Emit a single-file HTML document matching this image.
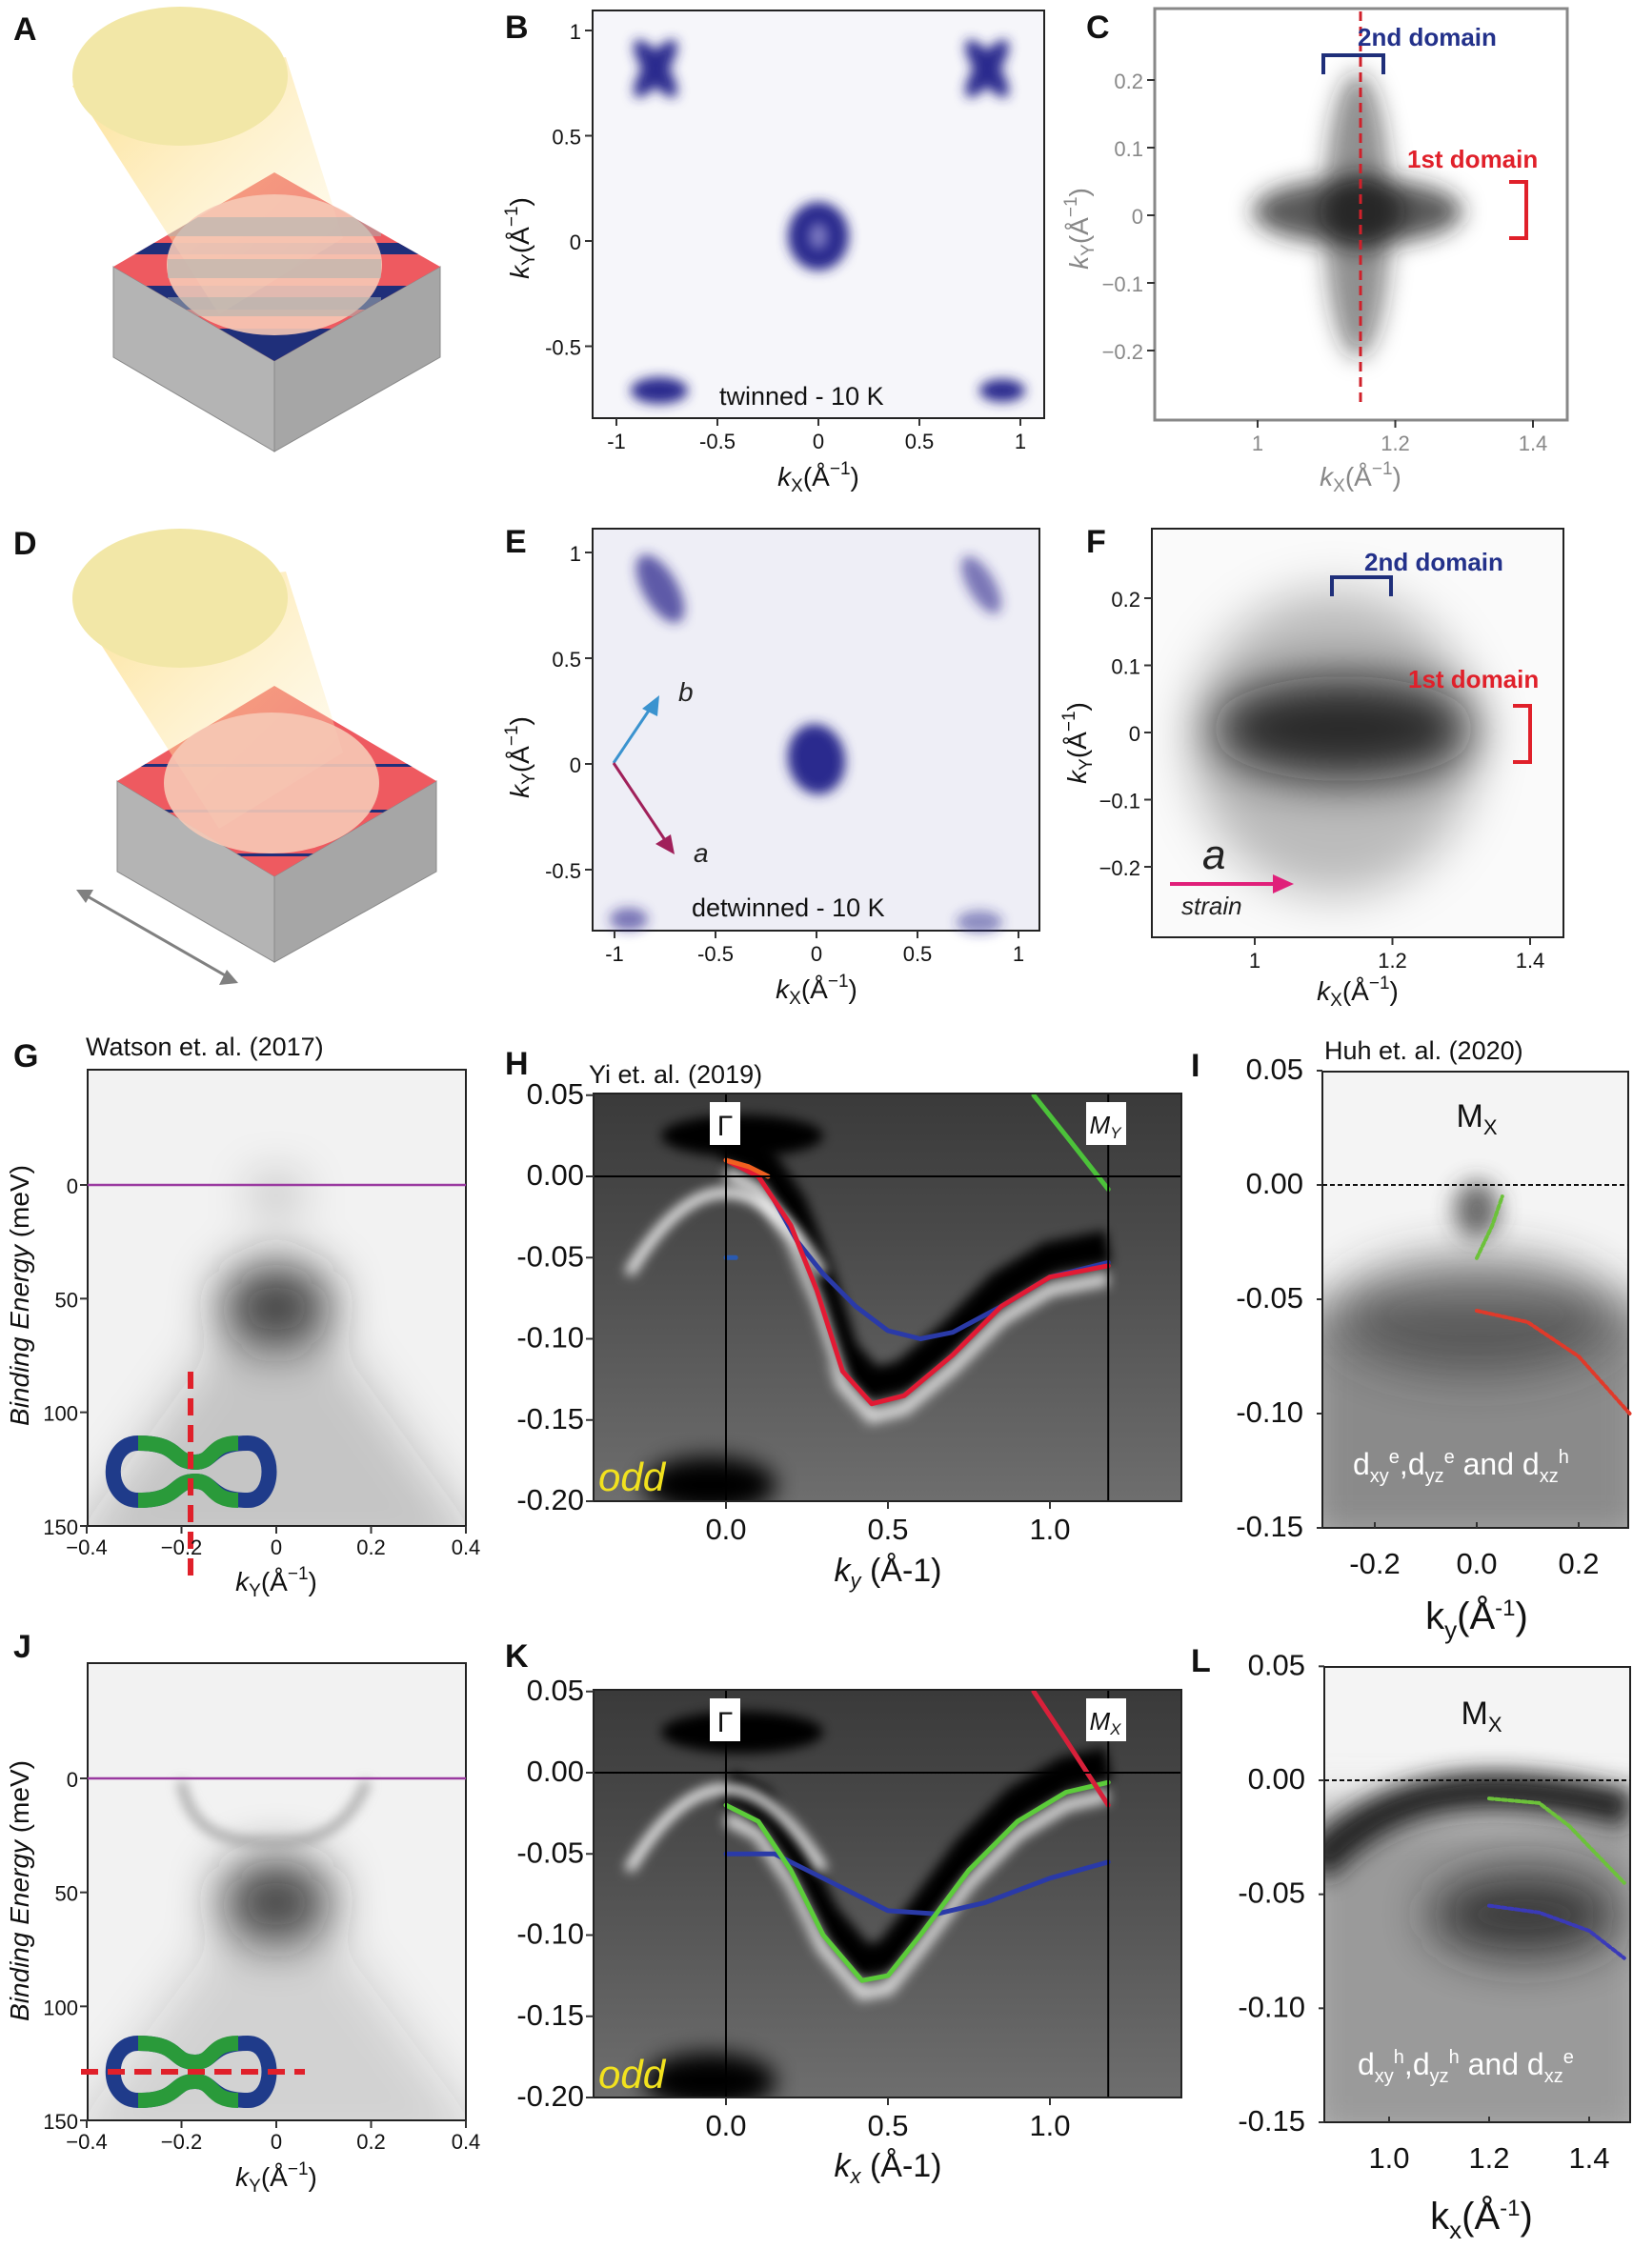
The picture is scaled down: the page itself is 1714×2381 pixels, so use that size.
<!DOCTYPE html>
<html><head><meta charset="utf-8">
<style>
html,body{margin:0;padding:0;background:#fff;}
svg{display:block;font-family:"Liberation Sans",Arial,sans-serif;}
.lbl{font-size:34px;font-weight:bold;fill:#111;}
.tk{font-size:22px;fill:#111;}
.tkg{font-size:22px;fill:#888;}
.tkb{font-size:31px;fill:#111;}
</style></head>
<body>
<svg id="fig" width="1714" height="2381" viewBox="0 0 1714 2381" xmlns="http://www.w3.org/2000/svg">
<defs>
<filter id="b6" x="-100%" y="-100%" width="300%" height="300%"><feGaussianBlur stdDeviation="6"/></filter>
<filter id="b12" x="-100%" y="-100%" width="300%" height="300%"><feGaussianBlur stdDeviation="12"/></filter>
<filter id="b25" x="-100%" y="-100%" width="300%" height="300%"><feGaussianBlur stdDeviation="25"/></filter>
<filter id="b40" x="-100%" y="-100%" width="300%" height="300%"><feGaussianBlur stdDeviation="40"/></filter>
<linearGradient id="beam" x1="0" y1="0" x2="1" y2="1"><stop offset="0" stop-color="#fbd56a"/><stop offset="1" stop-color="#fff3d0" stop-opacity="0.3"/></linearGradient>
<linearGradient id="hbg" x1="0" y1="0" x2="0" y2="1"><stop offset="0" stop-color="#3a3a3a"/><stop offset="0.35" stop-color="#4a4a4a"/><stop offset="1" stop-color="#6e6e6e"/></linearGradient>
<clipPath id="cA"><polygon points="288,181 462,280 288,379 119,280"/></clipPath>
<clipPath id="cD"><polygon points="288,720 458,820 288,920 123,820"/></clipPath>
<clipPath id="cH"><rect x="623" y="1148" width="617" height="428"/></clipPath>
<clipPath id="cK"><rect x="623" y="1774" width="617" height="428"/></clipPath>
<clipPath id="cI"><rect x="1388" y="1125" width="321" height="479"/></clipPath>
<clipPath id="cL"><rect x="1390" y="1750" width="321" height="478"/></clipPath>
<clipPath id="cG"><rect x="92" y="1123" width="397" height="479"/></clipPath>
<clipPath id="cJ"><rect x="92" y="1746" width="397" height="480"/></clipPath>
<clipPath id="cF"><rect x="1209" y="555" width="432" height="429"/></clipPath>
<clipPath id="cC"><rect x="1212" y="9" width="433" height="432"/></clipPath>
</defs>

<!-- Panel A -->
<g>
<text class="lbl" x="14" y="42">A</text>
<polygon points="119,280 288,379 288,474 119,375" fill="#b4b4b4" stroke="#888"/>
<polygon points="288,379 462,280 462,375 288,474" fill="#a6a6a6" stroke="#888"/>
<polygon points="288,181 462,280 288,379 119,280" fill="#ee5a60"/>
<g clip-path="url(#cA)">
<rect x="100" y="255" width="380" height="12" fill="#1f2f7a"/>
<rect x="100" y="300" width="380" height="25" fill="#1f2f7a"/>
<rect x="100" y="345" width="380" height="40" fill="#1f2f7a"/>
</g>
<polygon points="76,90 300,60 360,250 230,330" fill="url(#beam)" opacity="0.75"/>
<ellipse cx="288" cy="278" rx="113" ry="74" fill="#f6c9b6" opacity="0.9"/>
<g opacity="0.55" fill="#aab2b0" clip-path="url(#cA)"><rect x="176" y="228" width="224" height="20"/><rect x="176" y="272" width="224" height="20"/><rect x="176" y="312" width="224" height="20"/></g>
<ellipse cx="189" cy="80" rx="113" ry="73" fill="#f2e7a7"/>
</g>

<!-- Panel D -->
<g>
<text class="lbl" x="14" y="582">D</text>
<polygon points="123,820 288,920 288,1010 123,915" fill="#b4b4b4" stroke="#888"/>
<polygon points="288,920 458,820 458,915 288,1010" fill="#a6a6a6" stroke="#888"/>
<polygon points="288,720 458,820 288,920 123,820" fill="#ee5a60"/>
<g clip-path="url(#cD)"><rect x="100" y="802" width="380" height="3" fill="#1f2f7a"/><rect x="100" y="850" width="380" height="3" fill="#1f2f7a"/><rect x="100" y="896" width="380" height="3" fill="#1f2f7a"/></g>
<polygon points="76,630 300,600 360,790 230,870" fill="url(#beam)" opacity="0.75"/>
<ellipse cx="285" cy="822" rx="113" ry="74" fill="#f6c9b6" opacity="0.9"/>
<ellipse cx="189" cy="628" rx="113" ry="73" fill="#f2e7a7"/>
<line x1="90" y1="940" x2="238" y2="1025" stroke="#808080" stroke-width="3"/>
<polygon points="80,934 98,934 90,948" fill="#808080"/>
<polygon points="250,1032 230,1034 238,1018" fill="#808080"/>
</g>

<!-- Panel B -->
<g>
<text class="lbl" x="530" y="40">B</text>
<rect x="622" y="11" width="474" height="428" fill="#f6f6fa" stroke="#222" stroke-width="2"/>
<g fill="#2b2a8e" filter="url(#b6)">
<ellipse cx="859" cy="248" rx="32" ry="36"/>
<ellipse cx="688" cy="72" rx="12" ry="36" transform="rotate(35 688 72)"/><ellipse cx="688" cy="72" rx="12" ry="36" transform="rotate(-35 688 72)"/>
<ellipse cx="1036" cy="72" rx="12" ry="36" transform="rotate(35 1036 72)"/><ellipse cx="1036" cy="72" rx="12" ry="36" transform="rotate(-35 1036 72)"/>
<ellipse cx="692" cy="410" rx="30" ry="14"/><ellipse cx="1052" cy="410" rx="24" ry="12"/>
</g>
<ellipse cx="859" cy="248" rx="10" ry="14" fill="#7a78c0" filter="url(#b6)"/>
<text x="755" y="425" font-size="27" fill="#111">twinned - 10 K</text>
<g id="axB"></g>
<text x="859" y="510" font-size="28" text-anchor="middle" fill="#111"><tspan font-style="italic">k</tspan><tspan font-size="19" dy="6">X</tspan><tspan dy="-6">(Å</tspan><tspan font-size="19" dy="-12">−1</tspan><tspan dy="12">)</tspan></text>
<text transform="translate(555,250) rotate(-90)" font-size="28" text-anchor="middle" fill="#111"><tspan font-style="italic">k</tspan><tspan font-size="19" dy="6">Y</tspan><tspan dy="-6">(Å</tspan><tspan font-size="19" dy="-12">−1</tspan><tspan dy="12">)</tspan></text>
</g>

<!-- Panel E -->
<g>
<text class="lbl" x="530" y="580">E</text>
<rect x="622" y="555" width="469" height="422" fill="#eeeef6" stroke="#222" stroke-width="2"/>
<g fill="#2b2a8e" filter="url(#b6)">
<ellipse cx="857" cy="797" rx="30" ry="37" transform="rotate(-10 857 797)"/>
<ellipse cx="693" cy="618" rx="18" ry="40" transform="rotate(-30 693 618)" opacity="0.75"/>
<ellipse cx="1030" cy="614" rx="14" ry="34" transform="rotate(-30 1030 614)" opacity="0.6"/>
<ellipse cx="660" cy="965" rx="20" ry="12" opacity="0.6"/><ellipse cx="1028" cy="968" rx="24" ry="12" opacity="0.5"/>
</g>
<line x1="644" y1="801" x2="685" y2="740" stroke="#3b93cf" stroke-width="3"/><polygon points="692,730 690,752 674,744" fill="#3b93cf"/>
<line x1="644" y1="801" x2="700" y2="885" stroke="#a0205a" stroke-width="3"/><polygon points="708,897 688,886 704,876" fill="#a0205a"/>
<text x="712" y="736" font-size="28" font-style="italic" fill="#222">b</text>
<text x="728" y="905" font-size="28" font-style="italic" fill="#222">a</text>
<text x="726" y="962" font-size="27" fill="#111">detwinned - 10 K</text>
<g id="axE"></g>
<text x="857" y="1048" font-size="28" text-anchor="middle" fill="#111"><tspan font-style="italic">k</tspan><tspan font-size="19" dy="6">X</tspan><tspan dy="-6">(Å</tspan><tspan font-size="19" dy="-12">−1</tspan><tspan dy="12">)</tspan></text>
<text transform="translate(555,795) rotate(-90)" font-size="28" text-anchor="middle" fill="#111"><tspan font-style="italic">k</tspan><tspan font-size="19" dy="6">Y</tspan><tspan dy="-6">(Å</tspan><tspan font-size="19" dy="-12">−1</tspan><tspan dy="12">)</tspan></text>
</g>

<!-- Panel C -->
<g>
<text class="lbl" x="1140" y="40">C</text>
<rect x="1212" y="9" width="433" height="432" fill="#fff" stroke="#888" stroke-width="3"/>
<g fill="#222" filter="url(#b12)" clip-path="url(#cC)">
<ellipse cx="1425" cy="222" rx="110" ry="35" opacity="0.75"/>
<ellipse cx="1425" cy="226" rx="35" ry="150" opacity="0.5"/>
<ellipse cx="1430" cy="222" rx="45" ry="40" opacity="0.8"/>
</g>
<line x1="1428" y1="12" x2="1428" y2="425" stroke="#d0202a" stroke-width="3" stroke-dasharray="10,6"/>
<path d="M1389,78 V58 H1452 V78" fill="none" stroke="#1f2f7a" stroke-width="4"/>
<path d="M1584,191 H1602 V250 H1584" fill="none" stroke="#e0202a" stroke-width="4"/>
<text x="1425" y="48" font-size="26" font-weight="bold" fill="#23318a">2nd domain</text>
<text x="1477" y="176" font-size="26" font-weight="bold" fill="#e0202a">1st domain</text>
<g id="axC"></g>
<text x="1428" y="510" font-size="28" text-anchor="middle" fill="#888"><tspan font-style="italic">k</tspan><tspan font-size="19" dy="6">X</tspan><tspan dy="-6">(Å</tspan><tspan font-size="19" dy="-12">−1</tspan><tspan dy="12">)</tspan></text>
<text transform="translate(1142,240) rotate(-90)" font-size="28" text-anchor="middle" fill="#888"><tspan font-style="italic">k</tspan><tspan font-size="19" dy="6">Y</tspan><tspan dy="-6">(Å</tspan><tspan font-size="19" dy="-12">−1</tspan><tspan dy="12">)</tspan></text>
</g>

<!-- Panel F -->
<g>
<text class="lbl" x="1140" y="580">F</text>
<rect x="1209" y="555" width="432" height="429" fill="#fafafa" stroke="#222" stroke-width="2"/>
<g fill="#111" filter="url(#b25)" clip-path="url(#cF)">
<ellipse cx="1400" cy="780" rx="150" ry="160" opacity="0.25"/>
<ellipse cx="1410" cy="765" rx="140" ry="55" opacity="0.85"/>
</g>
<path d="M1398,626 V606 H1460 V626" fill="none" stroke="#1f2f7a" stroke-width="4"/>
<path d="M1588,741 H1606 V800 H1588" fill="none" stroke="#e0202a" stroke-width="4"/>
<text x="1432" y="599" font-size="26" font-weight="bold" fill="#23318a">2nd domain</text>
<text x="1478" y="722" font-size="26" font-weight="bold" fill="#e0202a">1st domain</text>
<line x1="1228" y1="928" x2="1340" y2="928" stroke="#e0207a" stroke-width="4"/><polygon points="1358,928 1336,918 1336,938" fill="#e0207a"/>
<text x="1262" y="912" font-size="44" font-style="italic" fill="#222">a</text>
<text x="1240" y="960" font-size="26" font-style="italic" fill="#222">strain</text>
<g id="axF"></g>
<text x="1425" y="1050" font-size="28" text-anchor="middle" fill="#111"><tspan font-style="italic">k</tspan><tspan font-size="19" dy="6">X</tspan><tspan dy="-6">(Å</tspan><tspan font-size="19" dy="-12">−1</tspan><tspan dy="12">)</tspan></text>
<text transform="translate(1140,780) rotate(-90)" font-size="28" text-anchor="middle" fill="#111"><tspan font-style="italic">k</tspan><tspan font-size="19" dy="6">Y</tspan><tspan dy="-6">(Å</tspan><tspan font-size="19" dy="-12">−1</tspan><tspan dy="12">)</tspan></text>
</g>

<!-- Panel G -->
<g>
<text class="lbl" x="14" y="1120">G</text>
<text x="90" y="1108" font-size="27" fill="#111">Watson et. al. (2017)</text>
<rect x="92" y="1123" width="397" height="479" fill="#f2f2f2" stroke="#222" stroke-width="2"/>
<g fill="#222" filter="url(#b25)" clip-path="url(#cG)">
<path d="M60,1640 L290,1320 L520,1640Z" opacity="0.22"/>
<ellipse cx="290" cy="1370" rx="60" ry="45" opacity="0.8"/>
<ellipse cx="290" cy="1255" rx="25" ry="18" opacity="0.3"/>
</g>
<rect x="92" y="1123" width="397" height="479" fill="none" stroke="#222" stroke-width="2"/>
<line x1="92" y1="1244" x2="489" y2="1244" stroke="#9a3aa0" stroke-width="2.5"/>
<g transform="translate(0,183)">
<path d="M145,1332 C110,1332 110,1392 145,1392 C190,1392 180,1372 205,1372 C225,1372 220,1392 260,1392 C290,1392 290,1332 260,1332 C220,1332 225,1352 205,1352 C180,1352 190,1332 145,1332Z" fill="none" stroke="#1f3b8a" stroke-width="16"/>
<path d="M145,1332 C190,1332 180,1352 205,1352 C225,1352 220,1332 250,1332 M145,1392 C190,1392 180,1372 205,1372 C225,1372 220,1392 250,1392" fill="none" stroke="#2a9a3a" stroke-width="16"/>
</g>
<line x1="200" y1="1440" x2="200" y2="1655" stroke="#e0202a" stroke-width="6" stroke-dasharray="18,10"/>
<g id="axG"></g>
<text x="290" y="1670" font-size="28" text-anchor="middle" fill="#111"><tspan font-style="italic">k</tspan><tspan font-size="19" dy="6">Y</tspan><tspan dy="-6">(Å</tspan><tspan font-size="19" dy="-12">−1</tspan><tspan dy="12">)</tspan></text>
<text transform="translate(30,1360) rotate(-90)" font-size="28" font-style="italic" text-anchor="middle" fill="#111">Binding Energy  <tspan font-style="normal">(meV)</tspan></text>
</g>

<!-- Panel J -->
<g>
<text class="lbl" x="14" y="1740">J</text>
<rect x="92" y="1746" width="397" height="480" fill="#f2f2f2" stroke="#222" stroke-width="2"/>
<g fill="#222" filter="url(#b25)" clip-path="url(#cJ)">
<path d="M60,2260 L290,1950 L520,2260Z" opacity="0.16"/>
<ellipse cx="290" cy="1995" rx="60" ry="45" opacity="0.8"/>
</g>
<path d="M190,1870 C200,1920 230,1935 290,1935 C340,1935 370,1910 385,1870" fill="none" stroke="#999" stroke-width="8" filter="url(#b6)"/>
<rect x="92" y="1746" width="397" height="480" fill="none" stroke="#222" stroke-width="2"/>
<line x1="92" y1="1867" x2="489" y2="1867" stroke="#9a3aa0" stroke-width="2.5"/>
<g transform="translate(0,190)">
<path d="M145,1955 C110,1955 110,2015 145,2015 C190,2015 180,1995 205,1995 C225,1995 220,2015 260,2015 C290,2015 290,1955 260,1955 C220,1955 225,1975 205,1975 C180,1975 190,1955 145,1955Z" fill="none" stroke="#1f3b8a" stroke-width="16"/>
<path d="M145,1955 C190,1955 180,1975 205,1975 C225,1975 220,1955 250,1955 M145,2015 C190,2015 180,1995 205,1995 C225,1995 220,2015 250,2015" fill="none" stroke="#2a9a3a" stroke-width="16"/>
<line x1="85" y1="1985" x2="320" y2="1985" stroke="#e0202a" stroke-width="6" stroke-dasharray="18,10"/>
</g>
<g id="axJ"></g>
<text x="290" y="2295" font-size="28" text-anchor="middle" fill="#111"><tspan font-style="italic">k</tspan><tspan font-size="19" dy="6">Y</tspan><tspan dy="-6">(Å</tspan><tspan font-size="19" dy="-12">−1</tspan><tspan dy="12">)</tspan></text>
<text transform="translate(30,1985) rotate(-90)" font-size="28" font-style="italic" text-anchor="middle" fill="#111">Binding Energy  <tspan font-style="normal">(meV)</tspan></text>
</g>

<!-- Panel H -->
<g>
<text class="lbl" x="530" y="1128">H</text>
<text x="618" y="1137" font-size="27" fill="#111">Yi et. al. (2019)</text>
<rect x="623" y="1148" width="617" height="428" fill="url(#hbg)"/>
<g id="bgH" clip-path="url(#cH)"></g>
<g id="curvesH" clip-path="url(#cH)"></g>
<rect x="623" y="1148" width="617" height="428" fill="none" stroke="#222" stroke-width="2"/>
<rect x="745" y="1157" width="32" height="45" fill="#fff"/><text x="761" y="1192" font-size="30" text-anchor="middle" fill="#111">Γ</text>
<rect x="1140" y="1157" width="42" height="45" fill="#fff"/><text x="1160" y="1190" font-size="26" font-style="italic" text-anchor="middle" fill="#111">M<tspan font-size="17" dy="5">Y</tspan></text>
<text x="628" y="1565" font-size="42" font-style="italic" fill="#f2e21e">odd</text>
<g id="axH"></g>
<text x="932" y="1660" font-size="34" text-anchor="middle" fill="#111"><tspan font-style="italic">k</tspan><tspan font-size="22" dy="7" font-style="italic">y</tspan><tspan dy="-7"> (Å-1)</tspan></text>
</g>

<!-- Panel K -->
<g>
<text class="lbl" x="530" y="1750">K</text>
<rect x="623" y="1774" width="617" height="428" fill="url(#hbg)"/>
<g id="bgK" clip-path="url(#cK)"></g>
<g id="curvesK" clip-path="url(#cK)"></g>
<rect x="623" y="1774" width="617" height="428" fill="none" stroke="#222" stroke-width="2"/>
<rect x="745" y="1783" width="32" height="45" fill="#fff"/><text x="761" y="1818" font-size="30" text-anchor="middle" fill="#111">Γ</text>
<rect x="1140" y="1783" width="42" height="45" fill="#fff"/><text x="1160" y="1816" font-size="26" font-style="italic" text-anchor="middle" fill="#111">M<tspan font-size="17" dy="5">X</tspan></text>
<text x="628" y="2192" font-size="42" font-style="italic" fill="#f2e21e">odd</text>
<g id="axK"></g>
<text x="932" y="2285" font-size="34" text-anchor="middle" fill="#111"><tspan font-style="italic">k</tspan><tspan font-size="22" dy="7" font-style="italic">x</tspan><tspan dy="-7"> (Å-1)</tspan></text>
</g>

<!-- Panel I -->
<g>
<text class="lbl" x="1250" y="1130">I</text>
<text x="1390" y="1112" font-size="27" fill="#111">Huh et. al. (2020)</text>
<rect x="1388" y="1125" width="321" height="479" fill="#f4f4f4"/>
<g clip-path="url(#cI)">
<rect x="1360" y="1370" width="380" height="260" fill="#8a8a8a" filter="url(#b25)"/>
<ellipse cx="1550" cy="1380" rx="150" ry="60" fill="#333" opacity="0.6" filter="url(#b25)"/>
<ellipse cx="1550" cy="1270" rx="24" ry="30" fill="#333" opacity="0.7" filter="url(#b12)"/>
</g>
<rect x="1388" y="1125" width="321" height="479" fill="none" stroke="#222" stroke-width="2"/>
<line x1="1388" y1="1244" x2="1709" y2="1244" stroke="#111" stroke-width="2" stroke-dasharray="5,3"/>
<g id="curvesI"></g>
<text x="1550" y="1183" font-size="34" text-anchor="middle" fill="#111">M<tspan font-size="22" dy="8">X</tspan></text>
<text x="1420" y="1548" font-size="32" fill="#fff">d<tspan font-size="20" dy="8">xy</tspan><tspan font-size="20" dy="-20">e</tspan><tspan dy="12">,d</tspan><tspan font-size="20" dy="8">yz</tspan><tspan font-size="20" dy="-20">e</tspan><tspan dy="12"> and d</tspan><tspan font-size="20" dy="8">xz</tspan><tspan font-size="20" dy="-20">h</tspan></text>
<g id="axI"></g>
<text x="1550" y="1710" font-size="40" text-anchor="middle" fill="#111">k<tspan font-size="26" dy="10">y</tspan><tspan dy="-10">(Å</tspan><tspan font-size="24" dy="-14">-1</tspan><tspan dy="14">)</tspan></text>
</g>

<!-- Panel L -->
<g>
<text class="lbl" x="1250" y="1755">L</text>
<rect x="1390" y="1750" width="321" height="478" fill="#f4f4f4"/>
<g clip-path="url(#cL)">
<rect x="1360" y="1900" width="380" height="360" fill="#9a9a9a" filter="url(#b25)"/>
<path d="M1380,1960 C1450,1880 1550,1860 1711,1900" fill="none" stroke="#222" stroke-width="40" filter="url(#b12)"/>
<ellipse cx="1600" cy="2010" rx="100" ry="45" fill="#222" opacity="0.8" filter="url(#b25)"/>
</g>
<rect x="1390" y="1750" width="321" height="478" fill="none" stroke="#222" stroke-width="2"/>
<line x1="1390" y1="1869" x2="1711" y2="1869" stroke="#111" stroke-width="2" stroke-dasharray="5,3"/>
<g id="curvesL"></g>
<text x="1555" y="1810" font-size="34" text-anchor="middle" fill="#111">M<tspan font-size="22" dy="8">X</tspan></text>
<text x="1425" y="2178" font-size="32" fill="#fff">d<tspan font-size="20" dy="8">xy</tspan><tspan font-size="20" dy="-20">h</tspan><tspan dy="12">,d</tspan><tspan font-size="20" dy="8">yz</tspan><tspan font-size="20" dy="-20">h</tspan><tspan dy="12"> and d</tspan><tspan font-size="20" dy="8">xz</tspan><tspan font-size="20" dy="-20">e</tspan></text>
<g id="axL"></g>
<text x="1555" y="2340" font-size="40" text-anchor="middle" fill="#111">k<tspan font-size="26" dy="10">x</tspan><tspan dy="-10">(Å</tspan><tspan font-size="24" dy="-14">-1</tspan><tspan dy="14">)</tspan></text>
</g>
</svg>

<script>
// ---- data arrays ----
const bTicksX = [-1, -0.5, 0, 0.5, 1];
const bTicksY = [1, 0.5, 0, -0.5];
const cTicksX = [1, 1.2, 1.4];
const cTicksY = [0.2, 0.1, 0, -0.1, -0.2];
const gTicksX = [-0.4, -0.2, 0, 0.2, 0.4];
const gTicksY = [0, 50, 100, 150];
const hTicksX = [0.0, 0.5, 1.0];
const hTicksY = [0.05, 0.00, -0.05, -0.10, -0.15, -0.20];
const iTicksX = [-0.2, 0.0, 0.2];
const lTicksX = [1.0, 1.2, 1.4];
const iTicksY = [0.05, 0.00, -0.05, -0.10, -0.15];
const lTicksY = [0.05, 0.00, -0.05, -0.10, -0.15];
// band dispersions (k, E) for H
const hRedK = [0, 0.1, 0.2, 0.28, 0.36, 0.45, 0.55, 0.7, 0.85, 1.0, 1.18];
const hRedE = [0.01, 0.0, -0.03, -0.07, -0.12, -0.14, -0.135, -0.11, -0.08, -0.062, -0.055];
const hBlueK = [0.15, 0.22, 0.3, 0.4, 0.5, 0.6, 0.7, 0.85, 1.0, 1.18];
const hBlueE = [-0.015, -0.04, -0.06, -0.08, -0.095, -0.1, -0.096, -0.08, -0.062, -0.053];
const hOrangeK = [0, 0.07, 0.13];
const hOrangeE = [0.01, 0.006, 0.0];
const hGreenK = [0.95, 1.05, 1.18];
const hGreenE = [0.05, 0.025, -0.008];
// K
const kGreenK = [0, 0.1, 0.2, 0.3, 0.42, 0.5, 0.6, 0.75, 0.9, 1.05, 1.18];
const kGreenE = [-0.02, -0.03, -0.06, -0.1, -0.128, -0.125, -0.1, -0.06, -0.03, -0.012, -0.006];
const kBlueK = [0, 0.15, 0.3, 0.5, 0.65, 0.8, 1.0, 1.18];
const kBlueE = [-0.05, -0.05, -0.065, -0.085, -0.087, -0.08, -0.065, -0.055];
const kRedK = [0.95, 1.05, 1.18];
const kRedE = [0.05, 0.02, -0.02];
// I, L dotted guide bands
const iGreenK = [0.0, 0.03, 0.05];
const iGreenE = [-0.032, -0.018, -0.005];
const iRedK = [0.0, 0.1, 0.2, 0.3];
const iRedE = [-0.055, -0.06, -0.075, -0.1];
const lGreenK = [1.2, 1.3, 1.36, 1.47];
const lGreenE = [-0.008, -0.01, -0.02, -0.045];
const lBlueK = [1.2, 1.3, 1.4, 1.47];
const lBlueE = [-0.055, -0.058, -0.066, -0.078];

const NS = "http://www.w3.org/2000/svg";
function lin(d0, d1, p0, p1){ return v => p0 + (v - d0) * (p1 - p0) / (d1 - d0); }
function el(tag, attrs, parent){ const e = document.createElementNS(NS, tag); for (const k in attrs) e.setAttribute(k, attrs[k]); parent.appendChild(e); return e; }

function axes(gid, fx, fy, tx, ty, box, cls, fmt, tickLen, inner){
  const g = document.getElementById(gid);
  tx.forEach(v => {
    const x = fx(v);
    el('line', {x1:x, y1:box.b, x2:x, y2:box.b + (inner ? -tickLen : tickLen), stroke:'#333', 'stroke-width':2}, g);
    const t = el('text', {x:x, y:box.b + box.xo, 'text-anchor':'middle', class:cls}, g);
    t.textContent = fmt.x(v);
    
    
  });
  ty.forEach(v => {
    const y = fy(v);
    el('line', {x1:box.l, y1:y, x2:box.l - tickLen, y2:y, stroke:'#333', 'stroke-width':2}, g);
    const t = el('text', {x:box.l - box.yo, y:y + 9, 'text-anchor':'end', class:cls}, g);
    t.textContent = fmt.y(v);
    
    
  });
}
const s = v => String(v).replace('-', '−');
const f2 = v => (v < 0 ? '-' : '') + Math.abs(v).toFixed(2);
const f1 = v => (v < 0 ? '-' : '') + Math.abs(v).toFixed(1);

let bx = lin(0, 1, 859, 1071), by = lin(0, 1, 253, 32);
axes('axB', bx, by, bTicksX, bTicksY, {b:439, l:622, xo:32, yo:12}, 'tk', {x:String, y:String}, 8);
let ex = lin(0, 1, 857, 1069), ey = lin(0, 1, 802, 580);
axes('axE', ex, ey, bTicksX, bTicksY, {b:977, l:622, xo:32, yo:12}, 'tk', {x:String, y:String}, 8);
let cx = lin(1, 1.4, 1320, 1609), cy = lin(0, 0.2, 226, 84);
axes('axC', cx, cy, cTicksX, cTicksY, {b:441, l:1212, xo:32, yo:12}, 'tkg', {x:String, y:s}, 8);
let fx = lin(1, 1.4, 1317, 1606), fy = lin(0, 0.2, 769, 628);
axes('axF', fx, fy, cTicksX, [0.2,0.1,0,-0.1,-0.2], {b:984, l:1209, xo:32, yo:12}, 'tk', {x:String, y:s}, 8);
let gx = lin(0, 0.4, 290, 489), gy = lin(0, 150, 1244, 1602);
axes('axG', gx, gy, gTicksX, gTicksY, {b:1602, l:92, xo:30, yo:10}, 'tk', {x:s, y:String}, 8);
let jy = lin(0, 150, 1867, 2226);
axes('axJ', gx, jy, gTicksX, gTicksY, {b:2226, l:92, xo:30, yo:10}, 'tk', {x:s, y:String}, 8);
let hx = lin(0, 1, 762, 1102), hy = lin(0, -0.2, 1235, 1576);
axes('axH', hx, hy, hTicksX, hTicksY, {b:1576, l:623, xo:40, yo:10}, 'tkb', {x:f1, y:f2}, 8);
let ky = lin(0, -0.2, 1861, 2202);
axes('axK', hx, ky, hTicksX, hTicksY, {b:2202, l:623, xo:40, yo:10}, 'tkb', {x:f1, y:f2}, 8);
let ix = lin(0, 0.2, 1550, 1657), iy = lin(0, -0.15, 1244, 1604);
axes('axI', ix, iy, iTicksX, iTicksY, {b:1604, l:1388, xo:48, yo:20}, 'tkb', {x:f1, y:f2}, 6, true);
let lx = lin(1.0, 1.4, 1458, 1668), ly = lin(0, -0.15, 1869, 2228);
axes('axL', lx, ly, lTicksX, lTicksY, {b:2228, l:1390, xo:48, yo:20}, 'tkb', {x:f1, y:f2}, 6, true);

function path(K, E, fx, fy){ return K.map((k,i) => (i ? 'L' : 'M') + fx(k).toFixed(1) + ',' + fy(E[i]).toFixed(1)).join(' '); }
function curve(gid, K, E, fx, fy, color, w, name, dash){
  const g = document.getElementById(gid);
  const p = el('path', {d:path(K,E,fx,fy), fill:'none', stroke:color, 'stroke-width':w, 'stroke-linecap':'round', 'stroke-linejoin':'round'}, g);
  if (dash) p.setAttribute('stroke-dasharray', dash);
  
  
}
function bg(gid, K, E, fy){
  const g = document.getElementById(gid);
  el('path', {d:path(K, E.map(e=>e+0.012), hx, fy), fill:'none', stroke:'#000', 'stroke-width':34, filter:'url(#b6)'}, g);
  el('path', {d:path(K, E.map(e=>e-0.008), hx, fy), fill:'none', stroke:'#eee', 'stroke-width':14, filter:'url(#b6)', opacity:0.85}, g);
  el('ellipse', {cx:hx(0.05), cy:fy(0.025), rx:85, ry:22, fill:'#000', filter:'url(#b6)'}, g);
  el('path', {d:'M'+hx(-0.3)+','+fy(-0.06)+' Q'+hx(0)+','+fy(0.04)+' '+hx(0.3)+','+fy(-0.06), fill:'none', stroke:'#fff', 'stroke-width':10, filter:'url(#b6)'}, g);
  el('ellipse', {cx:hx(-0.05), cy:fy(-0.19), rx:70, ry:30, fill:'#000', filter:'url(#b12)'}, g);
}
bg('bgH', hRedK, hRedE, hy);
bg('bgK', kGreenK, kGreenE, ky);
curve('curvesH', hBlueK, hBlueE, hx, hy, '#2a3aa8', 5, 'band-blue-h');
curve('curvesH', hRedK, hRedE, hx, hy, '#e21a34', 5, 'band-red-h');
curve('curvesH', hOrangeK, hOrangeE, hx, hy, '#f06020', 5, 'band-orange-h');
curve('curvesH', hGreenK, hGreenE, hx, hy, '#4cc23a', 5, 'band-green-h');
curve('curvesH', [0, 0.03], [-0.05, -0.05], hx, hy, '#2a5ab0', 5, 'band-blue-stub-h');
curve('curvesK', kBlueK, kBlueE, hx, ky, '#2a3aa8', 5, 'band-blue-k');
curve('curvesK', kGreenK, kGreenE, hx, ky, '#5ccc3a', 5, 'band-green-k');
curve('curvesK', kRedK, kRedE, hx, ky, '#d8203a', 5, 'band-red-k');
curve('curvesI', iGreenK, iGreenE, ix, iy, '#6cc23a', 4, 'band-green-i', '4,3');
curve('curvesI', iRedK, iRedE, ix, iy, '#e03a2a', 4, 'band-red-i', '4,3');
curve('curvesL', lGreenK, lGreenE, lx, ly, '#6cc23a', 4, 'band-green-l', '4,3');
curve('curvesL', lBlueK, lBlueE, lx, ly, '#3a3ab8', 4, 'band-blue-l', '4,3');
['curvesH','curvesK'].forEach((id,i) => {
  const g = document.getElementById(id), fy = i ? ky : hy;
  el('line', {x1:hx(0), y1:fy(0.05)-4, x2:hx(0), y2:fy(-0.2), stroke:'#000', 'stroke-width':2}, g);
  el('line', {x1:hx(1.18), y1:fy(0.05)-4, x2:hx(1.18), y2:fy(-0.2), stroke:'#000', 'stroke-width':2}, g);
  el('line', {x1:623, y1:fy(0), x2:1240, y2:fy(0), stroke:'#000', 'stroke-width':2}, g);
});
</script>
</body></html>
